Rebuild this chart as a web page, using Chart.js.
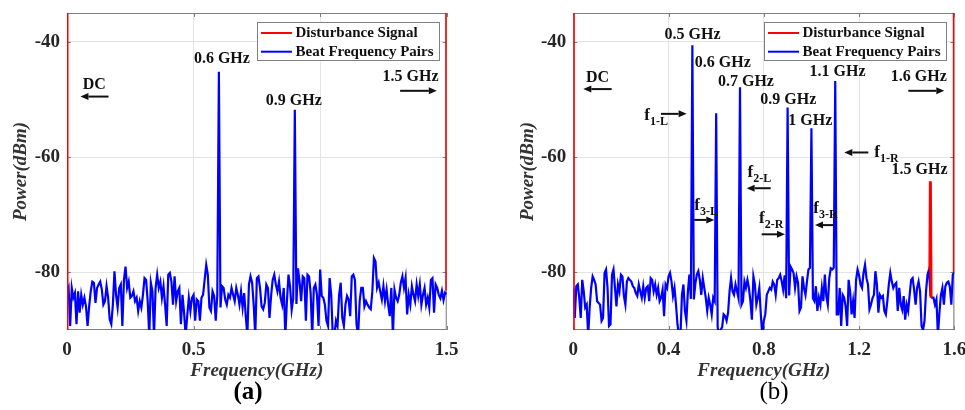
<!DOCTYPE html>
<html>
<head>
<meta charset="utf-8">
<script src="https://cdn.jsdelivr.net/npm/chart.js@4.4.1/dist/chart.umd.min.js"></script>
<style>
  body { margin: 0; background: #fff; }
  #wrap { position: relative; width: 965px; height: 410px; overflow: hidden; }
  .panel { position: absolute; top: 0; height: 410px; }
  .tag { position: absolute; top: 377px; font-family: 'Liberation Serif', serif; font-size: 25px; color: #000; transform: translateX(-50%); }
</style>
</head>
<body>
<div id="wrap">
  <div class="panel" style="left:0;width:483px"><canvas id="chartA" width="483" height="410"></canvas></div>
  <div class="panel" style="left:483px;width:482px"><canvas id="chartB" width="482" height="410"></canvas></div>
  <div class="tag" style="left:248px;font-weight:bold">(a)</div>
  <div class="tag" style="left:774px">(b)</div>
</div>
<script>
// spectrum bins are spaced 6.25 MHz apart, starting at DC
const FREQ_STEP = 0.00625;
const powerTicks = [-80, -60, -40];
const freqTicksA = [0, 0.5, 1, 1.5];
const freqTicksB = [0, 0.4, 0.8, 1.2, 1.6];
const seriesNames = ['Disturbance Signal', 'Beat Frequency Pairs'];

// (a) beat spectrum, 0 .. 1.5 GHz (dBm)
const beatA = [
  -83.6, -82.7, -89.3, -82.7, -84.4, -83.6, -89, -83.3, -87, -83.9,
  -85.6, -84.4, -85.9, -89.3, -85.9, -83.3, -81.6, -81.8, -85.3, -82.7,
  -82.1, -81.6, -83, -85.6, -85, -82.4, -84.4, -88.2, -89, -85.6,
  -79.8, -83.9, -86.1, -82.7, -82.1, -89.3, -81.3, -79, -82.7, -81.6,
  -84.4, -84.1, -83.3, -85, -84.4, -86.7, -85, -86.1, -83.9, -81,
  -81.3, -85, -91, -81.8, -83.3, -91, -82.7, -80.4, -82.7, -81.6,
  -84.4, -82.4, -85.6, -89.3, -80.4, -80.1, -81.6, -85.6, -80.7, -85,
  -83.3, -82.7, -89, -83.9, -87, -91, -87.5, -84.4,
  -86.7, -84.4, -83.9, -88.4, -84.7, -85, -88.4, -84.4, -83.9, -81.3,
  -78.7, -80.4, -86.1, -86.7, -83.3, -84.1, -88.4,
  -84, -45.2, -86.1,
  -82.4, -82.7, -84.7, -85.6, -83.9, -84.4, -82.7, -83.9, -85, -82.7,
  -83.9, -85.6, -83.3, -86.1, -83.6, -87.6, -91, -82.1, -80.7, -81.8,
  -85.6, -91, -81, -80.7, -82.7, -85.9, -86.4, -85.3, -82.1, -82.7,
  -87.9, -84.1, -81.3, -80.4, -82.1, -83.3, -81.6, -84.4, -85.6, -82.7,
  -91, -85, -80.4,
  -82.5, -86.5, -84.5, -51.8, -85.5,
  -79.3, -81.6, -85, -80.7, -81, -88.4, -80.4, -80.7, -83.6, -91,
  -82.7, -82.1, -83.9, -89.3, -79.5,
  -84.1, -84.4, -85.6, -88.4, -89.3, -81, -83.9, -91, -91, -88.4,
  -89.3, -83.9, -81.8, -87.9, -89.3, -85.6, -84.1, -84.7, -87.6, -80.7,
  -80.4, -81.3, -89, -91, -85, -82.7, -82.7, -85.9, -85, -85.6,
  -86.1, -86.4, -83.3, -77.5, -78.1, -82.7, -81.8, -83.3, -84.7, -82.4,
  -85, -83, -85.6, -87.6, -82.7, -91, -83, -84.4, -85, -83.9,
  -81.8, -80.7, -82.7, -81, -87.3, -83.9, -85.6, -82.4, -83.9, -85,
  -82.1, -84.1, -82.1, -85.6, -83.9, -82.7, -85.6, -84.4, -86.1, -81.3,
  -81, -87, -82.1, -82.7, -83.9,
  -84.5, -83.2, -84.8, -83.5, -83.8
];

// (b) beat spectrum, 0 .. 1.6 GHz (dBm)
const beatB = [
  -82.7, -87.9, -82.4, -82.1, -84.4, -87.9, -81.3, -83.3, -86.1, -85.6,
  -91, -86.1, -82.7, -80.7, -81.3, -82.1, -85, -85.3, -85.6, -88.4,
  -87.9, -80.1, -79.5, -82.7, -89.3, -89, -80.4, -79.5, -82.7, -85.9,
  -82.1, -83.3, -80.4, -80.7, -84.1, -85.6, -81.6, -81, -81.3, -81.6,
  -82.4, -82.7, -83.6, -84.1, -82.1, -83.3, -84.4, -82.4, -84.4, -82.7,
  -82.4, -85, -81, -81.3, -83.3, -82.1, -83.9, -82.7, -85, -84.4,
  -83, -87.6, -82.1, -82.7, -80.7, -80.1, -81.6, -84.1, -82.7, -85.6,
  -89, -91, -91, -83.9, -82.1, -86.7, -88.4, -83.3, -80.4, -84.6,
  -40.6,
  -84.7, -82, -80.4, -79.8, -81.3, -83.9, -81, -82.7, -84.4, -86.7,
  -84.4, -85.6, -87.3, -84.4, -85,
  -52.4,
  -89.5, -91, -90, -89.5, -87.3, -87.6, -88.4, -87, -83.3, -81,
  -83.3, -83.9, -82.1, -83.3, -84.5,
  -47.9,
  -85.6, -85, -81.6, -82.7, -81.3, -82.7, -85, -88.2, -80.7, -82.1,
  -85.6, -84.4, -82.7, -87.3, -91, -88.4, -87.3, -83.9, -83.3, -82.7,
  -83, -81.6, -82.1, -83.9, -81.3, -81, -80.4, -81.5, -83, -80.5,
  -84.5,
  -51.4,
  -84, -79, -79.5, -80.1, -82.7, -80.7, -81.8, -86.7, -86.1, -80.7,
  -82.7, -83.9, -81.6, -79.5, -79.2,
  -55,
  -84.5, -85, -82.4, -86.7, -84.4, -85.6, -82.7, -85, -80.4, -84.1,
  -85.6, -81, -79.3, -79.5, -79.2,
  -46.8,
  -87.3, -87.3, -82.7, -89.3, -83.9, -84.4, -86, -89.3, -81.3, -83.3,
  -87.3, -85, -87.9, -81.3, -79.5, -80.5, -82.1, -82.7, -80.1, -78.7,
  -81, -82.1, -86.4, -85.6, -84.5, -83.9, -79.8, -82.1, -87, -83.9,
  -84.4, -84.1, -86.7, -87.3, -85, -82.1, -80.1, -81.6, -82.7, -82.1,
  -81.8, -86.7, -82.7, -85.6, -86.5, -84.1, -88.2, -85.6, -86.7, -83.9,
  -81.3, -81, -83, -85.6, -82.7, -81.6, -83.3, -89.3, -90, -88.4,
  -83.3, -80.4, -79.5,
  -84,
  -84.4, -84.4, -85.6, -84.7, -91, -87, -83.9, -82.7, -85.6, -82.4,
  -81.8, -81.6, -82.5, -85.6, -80.4, -80
];

// disturbance traces (null = break in the trace)
const disturbFreqA = [0, 0, null, 1.5, 1.5];
const disturbPowA = [-95, -30, null, -83.2, -30];
const disturbFreqB = [0, 0, null, 1.4975, 1.4995, 1.5005, 1.5025, null, 1.6, 1.6];
const disturbPowB = [-95, -30, null, -79.6, -64.2, -64.2, -84.4, null, -80, -30];

// annotations, in data units (GHz, dBm)
const labelsA = ['0.6 GHz', '0.9 GHz', 'DC', '1.5 GHz'];
const labelFreqA = [0.612, 0.896, 0.108, 1.357];
const labelPowA = [-43, -50.2, -47.4, -46.1];
const arrowFromA = [0.164, 1.316];
const arrowToA = [0.053, 1.461];
const arrowPowA = [-49.5, -48.5];

const labelsB = ['0.5 GHz', '0.6 GHz', '0.7 GHz', '0.9 GHz', '1 GHz', '1.1 GHz', '1.6 GHz', '1.5 GHz', 'DC'];
const labelFreqB = [0.5006, 0.628, 0.725, 0.903, 0.995, 1.11, 1.451, 1.454, 0.102];
const labelPowB = [-38.8, -43.6, -46.9, -50.1, -53.8, -45.2, -46.1, -62.2, -46.2];
const arrowFromB = [0.161, 1.407, 0.368, 1.239, 0.829, 0.508, 0.791, 1.092];
const arrowToB = [0.042, 1.558, 0.476, 1.138, 0.728, 0.592, 0.889, 1.015];
const arrowPowB = [-48.2, -48.5, -52.5, -59.2, -65.4, -70.9, -73.4, -71.8];
const fSubB = ['1-L', '1-R', '2-L', '3-L', '2-R', '3-R'];
const fSubFreqB = [0.298, 1.264, 0.732, 0.508, 0.780, 1.008];
const fSubPowB = [-52.8, -59.2, -62.7, -68.5, -70.7, -69];

const SERIF = "'Liberation Serif', 'Times New Roman', serif";

function spectrum(values) {
    return values.map((p, i) => ({ x: i * FREQ_STEP, y: p }));
}

function pairs(fs, ps) {
    return fs.map((f, i) => ({ x: f === null ? fs[i - 1] : f, y: ps[i] }));
}

function drawArrow(ctx, x0, x1, y) {
    const dir = Math.sign(x1 - x0);
    const head = 8;
    ctx.beginPath();
    ctx.moveTo(x0, y);
    ctx.lineTo(x1 - dir * head, y);
    ctx.stroke();
    ctx.beginPath();
    ctx.moveTo(x1, y);
    ctx.lineTo(x1 - dir * head, y - 3.5);
    ctx.lineTo(x1 - dir * head, y + 3.5);
    ctx.closePath();
    ctx.fill();
}

const figureDecor = {
    id: 'figureDecor',
    beforeDatasetsDraw(chart) {
        const { ctx, chartArea: a, scales } = chart;
        ctx.save();
        ctx.strokeStyle = '#7f7f7f';
        ctx.lineWidth = 1;
        ctx.strokeRect(a.left + 0.5, a.top + 0.5, a.width - 1, a.height - 1);
        ctx.beginPath();
        scales.x.ticks.forEach(t => {
            const px = Math.round(scales.x.getPixelForValue(t.value)) + 0.5;
            ctx.moveTo(px, a.bottom); ctx.lineTo(px, a.bottom - 4);
            ctx.moveTo(px, a.top); ctx.lineTo(px, a.top + 4);
        });
        scales.y.ticks.forEach(t => {
            const py = Math.round(scales.y.getPixelForValue(t.value)) + 0.5;
            ctx.moveTo(a.left, py); ctx.lineTo(a.left + 4, py);
            ctx.moveTo(a.right, py); ctx.lineTo(a.right - 4, py);
        });
        ctx.stroke();
        ctx.restore();
    },
    afterDatasetsDraw(chart, args, opts) {
        const { ctx, chartArea: a, scales: { x, y } } = chart;
        ctx.save();
        ctx.fillStyle = '#111';
        ctx.strokeStyle = '#111';
        ctx.lineWidth = 2;
        ctx.textAlign = 'center';
        ctx.textBaseline = 'middle';
        ctx.font = 'bold 16px ' + SERIF;
        opts.labels.forEach((txt, i) => {
            ctx.fillText(txt, x.getPixelForValue(opts.labelFreq[i]), y.getPixelForValue(opts.labelPow[i]));
        });
        opts.arrowFrom.forEach((f, i) => {
            drawArrow(ctx, x.getPixelForValue(f), x.getPixelForValue(opts.arrowTo[i]), y.getPixelForValue(opts.arrowPow[i]));
        });
        ctx.textAlign = 'left';
        (opts.subs || []).forEach((sub, i) => {
            const px = x.getPixelForValue(opts.subFreq[i]);
            const py = y.getPixelForValue(opts.subPow[i]);
            ctx.font = 'bold 17px ' + SERIF;
            ctx.fillText('f', px, py);
            const w = ctx.measureText('f').width;
            ctx.font = 'bold 12px ' + SERIF;
            ctx.fillText(sub, px + w, py + 6);
        });

        // legend box, top-right inside the axes
        const lw = 182, lh = 38;
        const lx = Math.round(a.right - 8 - lw), ly = Math.round(a.top + 9);
        ctx.fillStyle = '#fff';
        ctx.fillRect(lx, ly, lw, lh);
        ctx.strokeStyle = '#808080';
        ctx.lineWidth = 1;
        ctx.strokeRect(lx + 0.5, ly + 0.5, lw, lh);
        chart.data.datasets.forEach((ds, i) => {
            const ry = ly + 11 + i * 18.7;
            ctx.strokeStyle = ds.borderColor;
            ctx.lineWidth = 2;
            ctx.beginPath();
            ctx.moveTo(lx + 4, ry);
            ctx.lineTo(lx + 35, ry);
            ctx.stroke();
            ctx.fillStyle = '#111';
            ctx.font = 'bold 15px ' + SERIF;
            ctx.fillText(ds.label, lx + 38.5, ry);
        });
        ctx.restore();
    }
};

function makePanel(canvasId, cfg) {
    const tickFont = { family: SERIF, size: 19, weight: 'bold' };
    const titleFont = { family: SERIF, size: 19, weight: 'bold', style: 'italic' };
    return new Chart(document.getElementById(canvasId), {
        type: 'line',
        data: {
            datasets: [
                {
                    label: seriesNames[0],
                    data: pairs(cfg.disturbFreq, cfg.disturbPow),
                    borderColor: '#ff0000',
                    borderWidth: 3,
                    pointRadius: 0,
                    tension: 0,
                    spanGaps: false
                },
                {
                    label: seriesNames[1],
                    data: spectrum(cfg.beat),
                    borderColor: '#0000ff',
                    borderWidth: 2.2,
                    pointRadius: 0,
                    tension: 0
                }
            ]
        },
        options: {
            responsive: false,
            animation: false,
            layout: { padding: cfg.padding },
            plugins: {
                legend: { display: false },
                tooltip: { enabled: false },
                figureDecor: cfg.notes
            },
            scales: {
                x: {
                    type: 'linear',
                    min: 0,
                    max: cfg.xMax,
                    afterBuildTicks: s => { s.ticks = cfg.xTicks.map(v => ({ value: v })); },
                    afterFit: s => { s.height = 80; s.paddingLeft = 0; s.paddingRight = 0; },
                    ticks: { font: tickFont, color: '#262626', padding: 9, maxRotation: 0, autoSkip: false, callback: v => String(v) },
                    grid: { color: '#e4e4e4', drawTicks: false },
                    border: { display: false },
                    title: { display: true, text: 'Frequency(GHz)', font: titleFont, color: '#333', padding: { top: 0, bottom: 28 } }
                },
                y: {
                    min: -90,
                    max: -35,
                    afterBuildTicks: s => { s.ticks = powerTicks.map(v => ({ value: v })); },
                    afterFit: s => { s.width = 67; s.paddingTop = 0; s.paddingBottom = 0; },
                    ticks: { font: tickFont, color: '#262626', padding: 7 },
                    grid: { color: '#e4e4e4', drawTicks: false },
                    border: { display: false },
                    title: { display: true, text: 'Power(dBm)', font: titleFont, color: '#333', padding: { top: 10, bottom: 0 } }
                }
            }
        },
        plugins: [figureDecor]
    });
}

makePanel('chartA', {
    beat: beatA,
    disturbFreq: disturbFreqA,
    disturbPow: disturbPowA,
    xMax: 1.5,
    xTicks: freqTicksA,
    padding: { left: 0, right: 36.3, top: 13, bottom: 0 },
    notes: {
        labels: labelsA, labelFreq: labelFreqA, labelPow: labelPowA,
        arrowFrom: arrowFromA, arrowTo: arrowToA, arrowPow: arrowPowA
    }
});

makePanel('chartB', {
    beat: beatB,
    disturbFreq: disturbFreqB,
    disturbPow: disturbPowB,
    xMax: 1.6,
    xTicks: freqTicksB,
    padding: { left: 23.3, right: 10.7, top: 13, bottom: 0 },
    notes: {
        labels: labelsB, labelFreq: labelFreqB, labelPow: labelPowB,
        arrowFrom: arrowFromB, arrowTo: arrowToB, arrowPow: arrowPowB,
        subs: fSubB, subFreq: fSubFreqB, subPow: fSubPowB
    }
});
</script>
</body>
</html>
